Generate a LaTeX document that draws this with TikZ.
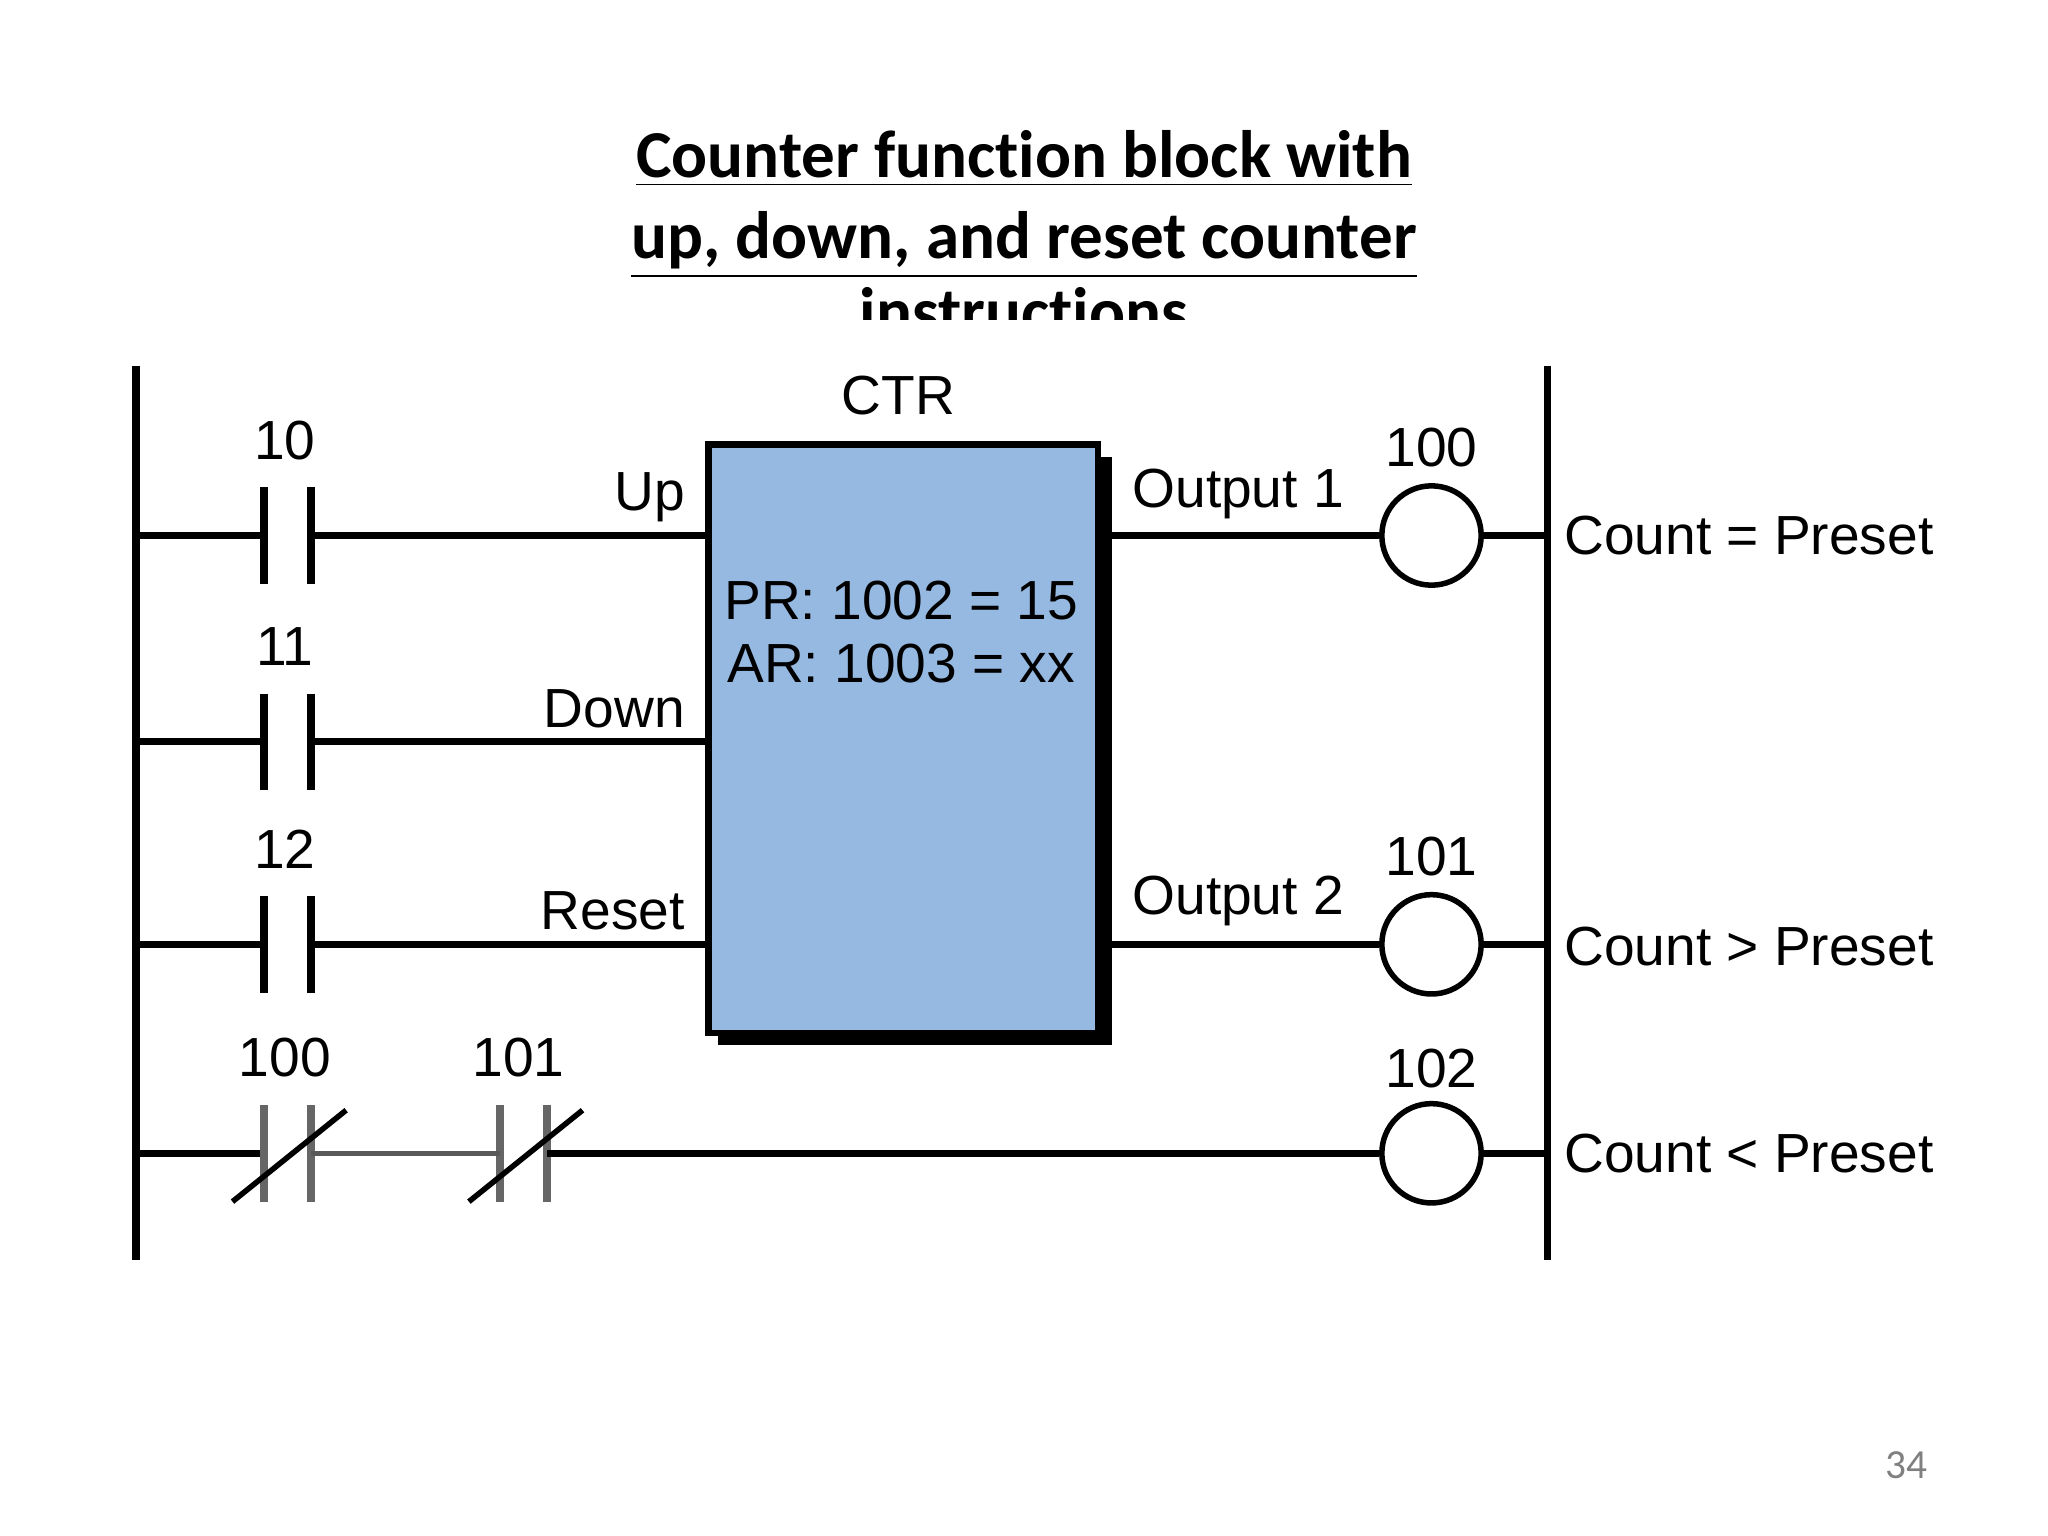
\documentclass[tikz,border=0pt]{standalone}
\usepackage{fontspec}
\setmainfont{Liberation Sans}
\newfontfamily\titlefont{Carlito}
\definecolor{boxblue}{HTML}{95B9E1}
\begin{document}
\begin{tikzpicture}[x=0.01cm,y=-0.01cm,
  wire/.style={line width=1.5pt},
  plate/.style={line width=1.7pt},
  lbl/.style={font=\fontsize{12}{14}\selectfont,inner sep=0pt},
  ttl/.style={font=\titlefont\bfseries\fontsize{14.6}{17}\selectfont,inner sep=0pt,anchor=base},
  coil/.style={circle,draw,line width=1.2pt,minimum size=0.76cm,inner sep=0pt}]
\useasboundingbox (0,0) rectangle (1568,1176);
% title, last line cut off
\begin{scope}
\clip (0,0) rectangle (1568,245);
\node[ttl] (t1) at (784,136) {\underline{Counter funct\kern0pt ion block with}};
\node[ttl] (t2) at (784,198) {\underline{up, down, and reset counter}};
\node[ttl] (t3) at (784,256) {inst\kern0pt ruct\kern0pt ions};
\end{scope}
% rails
\coordinate (L0) at (104,280); \coordinate (L1) at (104,965);
\coordinate (R0) at (1185,280); \coordinate (R1) at (1185,965);
\draw[line width=1.6pt] (L0) -- (L1);
\draw[line width=1.6pt] (R0) -- (R1);
% counter block
\fill (550,350) rectangle (851,800);
\node[draw,line width=1.4pt,fill=boxblue,minimum width=2.98cm,minimum height=4.5cm,inner sep=0pt,anchor=north west] (ctr) at (540,338) {};
\node[lbl] at (688,303) {CTR};
\node[lbl] at (690,460) {PR: 1002 = 15};
\node[lbl] at (690,508) {AR: 1003 = xx};
% input contacts
\foreach \y/\n/\t in {410/10/Up,568/11/Down,723/12/Reset}{
  \draw[wire] (104,\y) -- (202,\y);
  \draw[plate] (202,\y-37) -- (202,\y+37);
  \draw[plate] (238,\y-37) -- (238,\y+37);
  \draw[wire] (238,\y) -- (540,\y);
  \node[lbl] at (218,\y-73) {\n};
  \node[lbl,anchor=south east] at (525,\y-10) {\t};
}
% outputs
\node[coil] (c100) at (1096,410) {};
\node[coil] (c101) at (1096,723) {};
\node[coil] (c102) at (1096,883) {};
\draw[wire] (851,410) -- (c100.west);
\draw[wire] (c100.east) -- (1185,410);
\draw[wire] (851,723) -- (c101.west);
\draw[wire] (c101.east) -- (1185,723);
\node[lbl] at (948,378) {Output 1};
\node[lbl] at (948,690) {Output 2};
\node[lbl] at (1096,343) {100};
\node[lbl] at (1096,656) {101};
\node[lbl] at (1096,818) {102};
\node[lbl,anchor=west] at (1197,410) {Count = Preset};
\node[lbl,anchor=west] at (1197,725) {Count > Preset};
\node[lbl,anchor=west] at (1197,883) {Count < Preset};
% rung 4: normally closed contacts
\draw[wire] (104,883) -- (202,883);
\foreach \x in {202,383}{
  \draw[plate,gray!80!black] (\x,846) -- (\x,920);
  \draw[plate,gray!80!black] (\x+36,846) -- (\x+36,920);
  \draw[line width=1.2pt] (\x-24,920) -- (\x+63,850);
}
\draw[line width=1pt,gray!70!black] (238,883) -- (383,883);
\draw[wire] (419,883) -- (c102.west);
\draw[wire] (c102.east) -- (1185,883);
\node[lbl] at (218,810) {100};
\node[lbl] at (397,810) {101};
\node[font=\titlefont\fontsize{9}{10}\selectfont,text=gray] at (1460,1122) {34};
\end{tikzpicture}
\end{document}
